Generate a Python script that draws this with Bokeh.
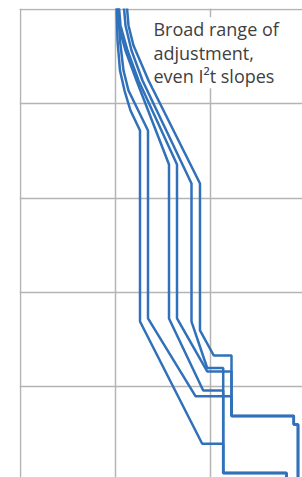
from bokeh.plotting import figure
from bokeh.models import FixedTicker, Label, Range1d
from bokeh.embed import file_html
from bokeh.resources import INLINE

# Multiples of current (log) and time in seconds (log)
c1_x = [10.25, 10.5, 11.15, 12.44, 14.38, 18.11, 18.11, 81.8, 136.1, 136.1, 631, 631]
c1_y = [1200, 469, 225, 138, 84.8, 52.0, 0.489, 0.0247, 0.0247, 0.0121, 0.0121, 0.008]

c2_x = [10.75, 11.15, 12.14, 13.70, 21.98, 21.98, 69.5, 166.4, 166.4, 753, 753, 834, 834]
c2_y = [1200, 469, 225, 138, 52.0, 0.527, 0.0789, 0.0789, 0.0486, 0.0486, 0.0395, 0.0395, 0.008]

c3_x = [10.25, 10.75, 12.74, 16.64, 36.58, 36.58, 83.8, 136.1, 136.1, 631, 631]
c3_y = [1200, 677, 367, 176.5, 22.67, 0.527, 0.0907, 0.0907, 0.0121, 0.0121, 0.008]

c4_x = [10.75, 11.29, 13.38, 17.47, 44.4, 44.4, 92.3, 166.4, 166.4, 753, 753, 834, 834]
c4_y = [1200, 677, 367, 176.5, 22.67, 0.527, 0.1443, 0.1443, 0.0486, 0.0486, 0.0395, 0.0395, 0.008]

c5_x = [12.14, 12.74, 14.74, 19.24, 63.1, 63.1, 92.3, 136.1, 136.1, 631, 631]
c5_y = [1200, 677, 367, 176.5, 14.25, 0.489, 0.1572, 0.1572, 0.0121, 0.0121, 0.008]

c6_x = [13.06, 13.70, 15.47, 22.26, 77.5, 77.5, 108.3, 166.4, 166.4, 753, 753, 834, 834]
c6_y = [1200, 677, 415, 176.5, 14.25, 0.393, 0.2133, 0.2133, 0.0486, 0.0486, 0.0395, 0.0395, 0.008]

x_grid = [1, 10, 100, 1000]
y_grid = [0.01, 0.1, 1, 10, 100, 1000]
note = "Broad range of\nadjustment,\neven I\u00b2t slopes"

X0, X1 = 10 ** (-1 / 95), 10 ** (282 / 95)
Y0, Y1 = 10 ** (3 - 468 / 94.25), 10 ** (3 + 1 / 94.25)

p = figure(width=302, height=477, x_axis_type="log", y_axis_type="log",
           x_range=Range1d(X0, X1), y_range=Range1d(Y0, Y1),
           output_backend="svg", toolbar_location=None,
           min_border_left=19, min_border_right=0, min_border_top=8, min_border_bottom=0)
p.outline_line_color = None
p.xaxis.visible = False
p.yaxis.visible = False
p.xgrid.ticker = FixedTicker(ticks=x_grid)
p.ygrid.ticker = FixedTicker(ticks=y_grid)
for g in (p.xgrid, p.ygrid):
    g.grid_line_color = "#b4b4b4"
    g.grid_line_width = 1.5
    g.grid_line_alpha = 1.0

blue = "#3071ba"
for xs, ys in [(c1_x, c1_y), (c2_x, c2_y), (c3_x, c3_y), (c4_x, c4_y), (c5_x, c5_y), (c6_x, c6_y)]:
    p.line(xs, ys, line_color=blue, line_width=2.5)

lab = Label(x=25.1, y=830, text=note, text_font="Open Sans", text_font_size="18px",
            text_color="#404040", text_baseline="top", text_align="left",
            text_line_height=0.98,
            background_fill_color="white", background_fill_alpha=1.0)
p.add_layout(lab)

open("out.html", "w").write(file_html(p, INLINE))
